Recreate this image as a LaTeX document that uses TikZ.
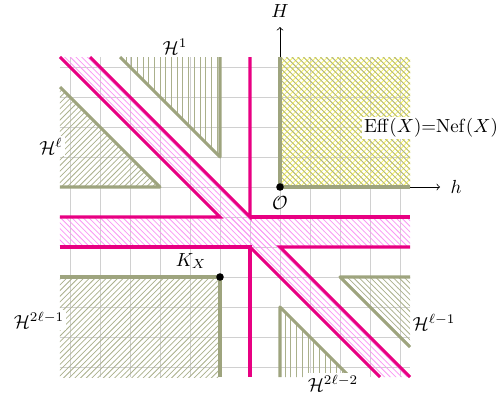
\documentclass[tikz,border=0pt]{standalone}
\usetikzlibrary{patterns}
\definecolor{olivec}{RGB}{158,164,126}
\definecolor{oliveh}{RGB}{170,176,140}
\definecolor{pinkc}{RGB}{232,0,130}
\definecolor{pinkh}{RGB}{250,150,245}
\definecolor{yellowh}{RGB}{250,245,90}
\definecolor{gridc}{RGB}{208,208,208}
\tikzset{
  gridline/.style={draw=gridc, line width=0.5pt},
  pinkline/.style={draw=pinkc, line width=1.6pt},
  pinkband/.style={pattern=north west lines, pattern color=pinkh},
  oliveline/.style={draw=olivec, line width=1.6pt, line join=round},
  lab/.style={fill=white, inner sep=1pt},
  axis/.style={draw=black, line width=0.4pt, -to},
  dotc/.style={circle, fill=black, inner sep=0pt, minimum size=4pt}
}
\begin{document}
\begin{tikzpicture}[x=0.1855cm, y=0.1855cm]
\useasboundingbox (-28,-20.9) rectangle (22.3,18.7);
% grid
\draw[gridline, step=3] (-22,-19) grid (13,13);
% key points
\coordinate (O) at (0,0);
\coordinate (Htip) at (0,16);
\coordinate (htip) at (16,0);
\coordinate (K) at (-6,-9);
% axes
\draw[axis] (O) -- (Htip);
\draw[axis] (O) -- (htip);
% Eff = Nef cone
\fill[pattern=crosshatch, pattern color=yellowh] (0,0) rectangle (13,13);
\fill[pattern=north west lines, pattern color=oliveh] (0,0) rectangle (13,13);
\draw[oliveline] (0,13) -- (O) -- (13,0);
% H^1
\fill[pattern=vertical lines, pattern color=oliveh] (-16,13) -- (-6,3) -- (-6,13) -- cycle;
\draw[oliveline] (-16,13) -- (-6,3) -- (-6,13);
% H^l
\fill[pattern=north east lines, pattern color=oliveh] (-22,10) -- (-12,0) -- (-22,0) -- cycle;
\draw[oliveline] (-22,10) -- (-12,0) -- (-22,0);
% H^{2l-1}
\fill[pattern=north east lines, pattern color=oliveh] (-22,-19) rectangle (K);
\draw[oliveline] (-22,-9) -- (K) -- (-6,-19);
% H^{l-1}
\fill[pattern=north west lines, pattern color=oliveh] (6,-9) -- (13,-9) -- (13,-16) -- cycle;
\draw[oliveline] (13,-9) -- (6,-9) -- (13,-16);
% H^{2l-2}
\fill[pattern=vertical lines, pattern color=oliveh] (0,-12) -- (0,-19) -- (7,-19) -- cycle;
\draw[oliveline] (0,-19) -- (0,-12) -- (7,-19);
% pink bands
\fill[pinkband] (-22,13) -- (-19,13) -- (13,-19) -- (10,-19) -- cycle;
\fill[pinkband] (-22,-6) rectangle (13,-3);
\draw[pinkline] (-22,13) -- (-6,-3) -- (-22,-3);
\draw[pinkline] (-19,13) -- (-3,-3) -- (-3,13);
\draw[pinkline] (-3,-3) -- (13,-3);
\draw[pinkline] (-22,-6) -- (-3,-6) -- (-3,-19);
\draw[pinkline] (-3,-6) -- (10,-19);
\draw[pinkline] (13,-6) -- (0,-6) -- (13,-19);
% dots
\node[dotc] (Odot) at (O) {};
\node[dotc] (Kdot) at (K) {};
% labels
\node (Hlab) at (0,17.6) {$H$};
\node (hlab) at (17.6,0) {$h$};
\node (Olab) at (0,-1.6) {$\mathcal{O}$};
\node (Klab) at (-8.9,-7.4) {$K_X$};
\node[lab] (Eff) at (15.1,5.9) {$\mathrm{Eff}(X){=}\mathrm{Nef}(X)$};
\node[lab] (H1) at (-10.5,14) {$\mathcal{H}^1$};
\node[lab] (Hl) at (-22.9,4.1) {$\mathcal{H}^\ell$};
\node[lab] (H2l1) at (-24.1,-13.3) {$\mathcal{H}^{2\ell-1}$};
\node[lab] (Hl1) at (15.4,-13.5) {$\mathcal{H}^{\ell-1}$};
\node[lab] (H2l2) at (5.3,-19.6) {$\mathcal{H}^{2\ell-2}$};
\end{tikzpicture}
\end{document}
